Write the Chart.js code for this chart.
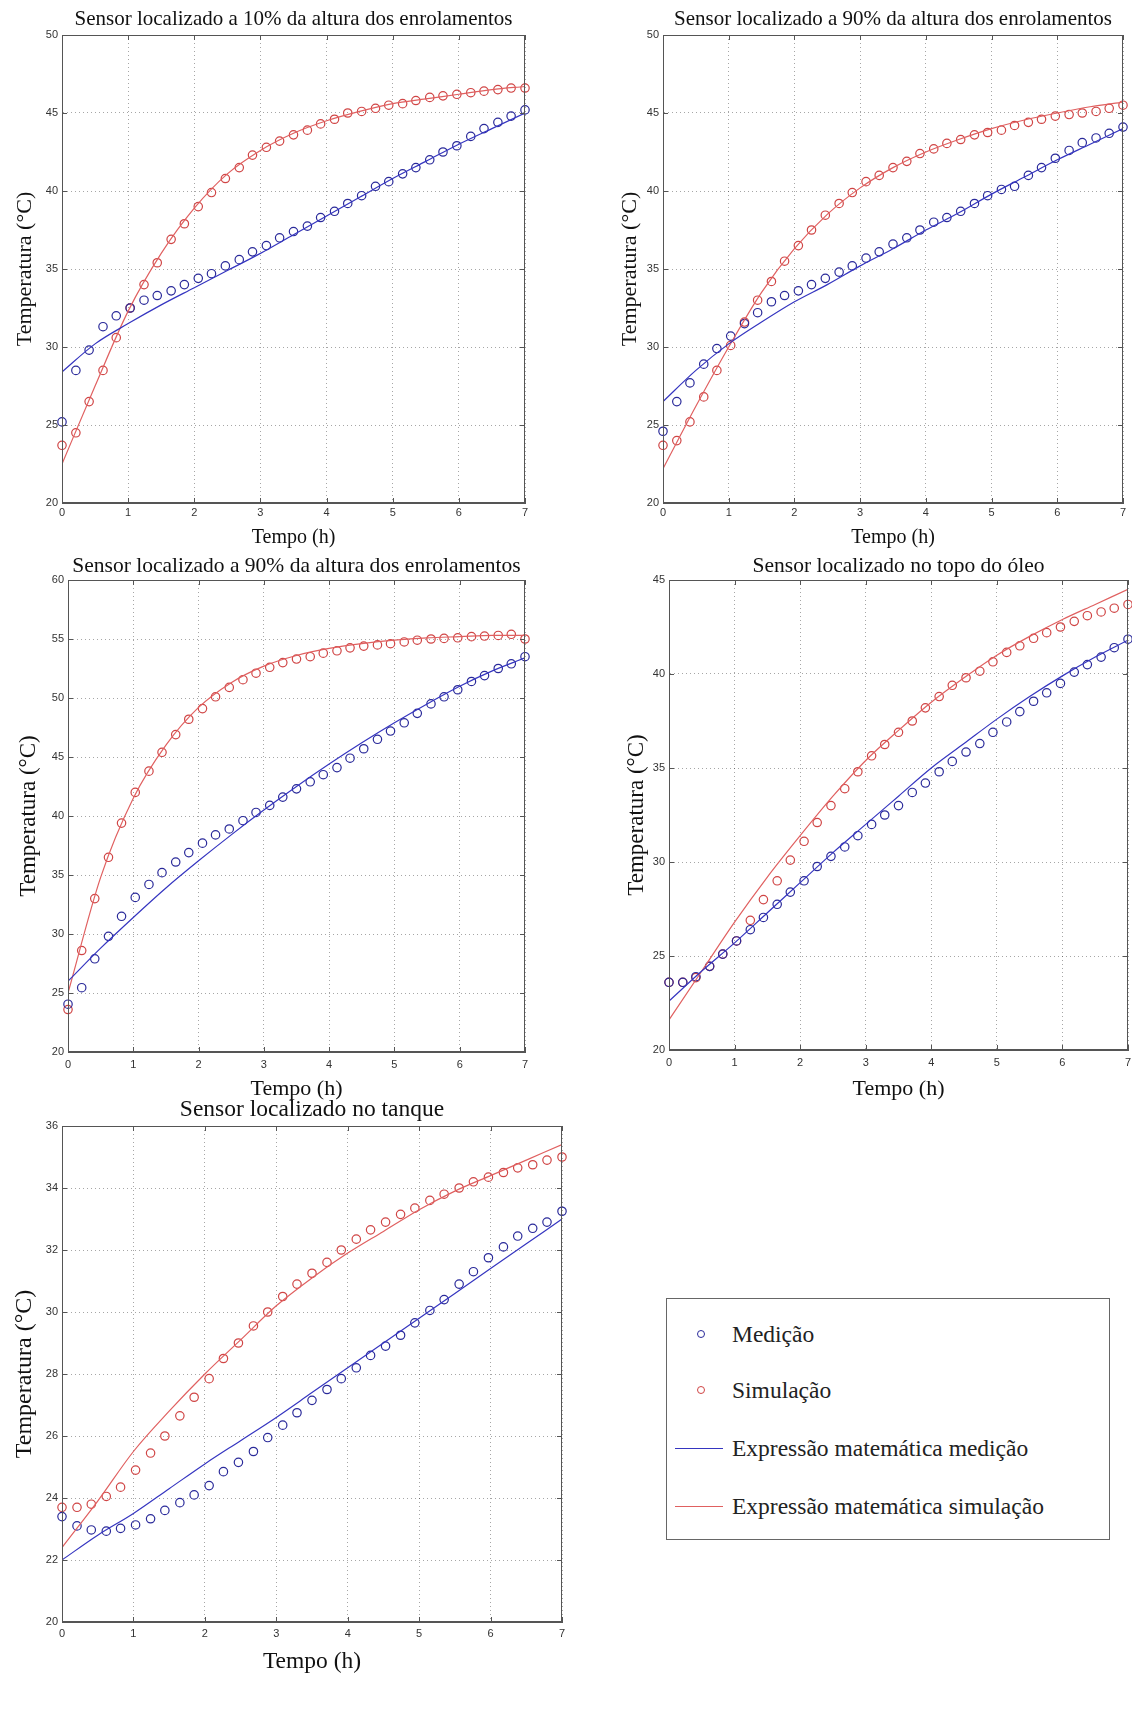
<!DOCTYPE html>
<html lang="pt">
<head>
<meta charset="utf-8">
<title>Temperatura dos sensores</title>
<script src="https://cdn.jsdelivr.net/npm/chart.js@4.4.1/dist/chart.umd.min.js"></script>
<style>
  html, body { margin: 0; padding: 0; background: #fff; overflow: hidden; }
  body { width: 1132px; height: 1710px; position: relative; }
  canvas { position: absolute; }
  #legenda {
    position: absolute; left: 666px; top: 1298px; width: 444px; height: 242px;
    box-sizing: border-box; border: 1px solid #666; background: #fff;
    font-family: "Liberation Serif", "Times New Roman", serif; font-size: 23.5px; color: #222;
  }
  #legenda .linha { position: absolute; left: 0; height: 30px; width: 100%; }
  #legenda .texto { position: absolute; left: 65px; top: 0; line-height: 30px; white-space: nowrap; }
  #legenda .circ { position: absolute; left: 30px; top: 11px; width: 6px; height: 6px; border-radius: 50%; border: 1px solid; }
  #legenda .traco { position: absolute; left: 8px; top: 15px; width: 48px; height: 0; border-top: 1px solid; }
</style>
</head>
<body>

<canvas id="g1"></canvas>
<canvas id="g2"></canvas>
<canvas id="g3"></canvas>
<canvas id="g4"></canvas>
<canvas id="g5"></canvas>

<div id="legenda">
  <div class="linha" style="top:20px"><span class="circ" style="border-color:#2a2a9a"></span><span class="texto">Medição</span></div>
  <div class="linha" style="top:76px"><span class="circ" style="border-color:#d04545"></span><span class="texto">Simulação</span></div>
  <div class="linha" style="top:134px"><span class="traco" style="border-color:#3535c0"></span><span class="texto">Expressão matemática medição</span></div>
  <div class="linha" style="top:192px"><span class="traco" style="border-color:#e06060"></span><span class="texto">Expressão matemática simulação</span></div>
</div>

<script>
// tempos das amostras (h) e da expressão matemática
const tempo = [0, 0.21, 0.41, 0.62, 0.82, 1.03, 1.24, 1.44, 1.65, 1.85, 2.06, 2.26, 2.47, 2.68, 2.88, 3.09, 3.29, 3.5,
  3.71, 3.91, 4.12, 4.32, 4.53, 4.74, 4.94, 5.15, 5.35, 5.56, 5.76, 5.97, 6.18, 6.38, 6.59, 6.79, 7];
const tempoCurva = [0, 0.5, 1, 1.5, 2, 2.5, 3, 3.5, 4, 4.5, 5, 5.5, 6, 6.5, 7];

// 10% da altura dos enrolamentos
const medicao10 = [25.2, 28.5, 29.8, 31.3, 32.0, 32.5, 33.0, 33.3, 33.6, 34.0, 34.4, 34.7, 35.2, 35.6, 36.1, 36.5, 37.0, 37.4,
  37.75, 38.3, 38.7, 39.2, 39.7, 40.3, 40.6, 41.1, 41.5, 42.0, 42.5, 42.9, 43.5, 44.0, 44.4, 44.8, 45.2];
const simulacao10 = [23.7, 24.5, 26.5, 28.5, 30.6, 32.5, 34.0, 35.4, 36.9, 37.9, 39.0, 39.9, 40.8, 41.5, 42.3, 42.8, 43.2, 43.6,
  43.9, 44.3, 44.6, 45.0, 45.1, 45.3, 45.5, 45.6, 45.8, 46.0, 46.1, 46.2, 46.3, 46.4, 46.5, 46.6, 46.6];
const curvaMedicao10 = [28.4, 30.2, 31.5, 32.7, 33.8, 34.9, 36.0, 37.2, 38.4, 39.6, 40.8, 41.9, 43.0, 44.0, 45.0];
const curvaSimulacao10 = [22.5, 27.5, 32.3, 36.0, 38.9, 41.1, 42.6, 43.7, 44.5, 45.1, 45.6, 45.9, 46.2, 46.5, 46.7];

// 90% da altura dos enrolamentos (primeiro gráfico)
const medicao90a = [24.6, 26.5, 27.7, 28.9, 29.9, 30.7, 31.5, 32.2, 32.9, 33.3, 33.6, 34.0, 34.4, 34.8, 35.2, 35.7, 36.1, 36.6,
  37.0, 37.5, 38.0, 38.3, 38.7, 39.2, 39.7, 40.1, 40.3, 41.0, 41.5, 42.1, 42.6, 43.1, 43.4, 43.7, 44.1];
const simulacao90a = [23.7, 24.0, 25.2, 26.8, 28.5, 30.1, 31.6, 33.0, 34.2, 35.5, 36.5, 37.5, 38.45, 39.2, 39.9, 40.6, 41.0, 41.5,
  41.9, 42.4, 42.7, 43.05, 43.3, 43.6, 43.75, 43.9, 44.2, 44.4, 44.6, 44.8, 44.9, 45.0, 45.1, 45.3, 45.5];
const curvaMedicao90a = [26.5, 28.5, 30.2, 31.6, 32.9, 34.0, 35.2, 36.3, 37.5, 38.6, 39.8, 40.9, 42.0, 43.0, 44.0];
const curvaSimulacao90a = [22.2, 26.2, 30.0, 33.5, 36.3, 38.5, 40.2, 41.5, 42.5, 43.3, 44.0, 44.55, 45.0, 45.4, 45.7];

// 90% da altura dos enrolamentos (segundo gráfico)
const medicao90b = [24.05, 25.45, 27.9, 29.8, 31.5, 33.1, 34.2, 35.2, 36.1, 36.9, 37.7, 38.4, 38.9, 39.6, 40.3, 40.9, 41.6, 42.3,
  42.9, 43.5, 44.1, 44.9, 45.7, 46.5, 47.2, 47.9, 48.7, 49.5, 50.1, 50.7, 51.4, 51.9, 52.5, 52.9, 53.5];
const simulacao90b = [23.6, 28.6, 33.0, 36.5, 39.4, 42.0, 43.8, 45.4, 46.9, 48.2, 49.1, 50.1, 50.9, 51.55, 52.1, 52.6, 53.0, 53.3,
  53.5, 53.8, 54.0, 54.25, 54.4, 54.5, 54.6, 54.75, 54.9, 55.0, 55.05, 55.1, 55.2, 55.25, 55.3, 55.4, 55.0];
const curvaMedicao90b = [26.0, 28.8, 31.4, 33.9, 36.2, 38.4, 40.5, 42.5, 44.4, 46.2, 47.9, 49.5, 51.0, 52.3, 53.4];
const curvaSimulacao90b = [25.0, 34.8, 41.5, 46.0, 49.2, 51.3, 52.7, 53.6, 54.2, 54.6, 54.9, 55.1, 55.2, 55.3, 55.3];

// topo do óleo
const medicaoTopo = [23.6, 23.6, 23.9, 24.45, 25.1, 25.8, 26.4, 27.05, 27.75, 28.4, 29.0, 29.76, 30.3, 30.8, 31.4, 32.0, 32.5, 33.0,
  33.7, 34.2, 34.8, 35.35, 35.85, 36.3, 36.9, 37.45, 38.0, 38.55, 39.0, 39.5, 40.1, 40.5, 40.9, 41.4, 41.85];
const simulacaoTopo = [23.6, 23.6, 23.85, 24.45, 25.1, 25.8, 26.9, 28.0, 29.0, 30.1, 31.1, 32.1, 33.0, 33.9, 34.8, 35.65, 36.25, 36.9,
  37.5, 38.2, 38.8, 39.4, 39.8, 40.15, 40.65, 41.15, 41.5, 41.9, 42.2, 42.5, 42.8, 43.1, 43.3, 43.5, 43.7];
const curvaMedicaoTopo = [22.6, 24.2, 25.7, 27.3, 28.9, 30.5, 32.0, 33.5, 35.0, 36.3, 37.6, 38.8, 39.9, 40.9, 41.8];
const curvaSimulacaoTopo = [21.6, 24.2, 26.8, 29.2, 31.4, 33.5, 35.4, 37.0, 38.5, 39.8, 41.0, 42.0, 42.9, 43.7, 44.5];

// tanque
const medicaoTanque = [23.4, 23.1, 22.97, 22.93, 23.02, 23.13, 23.33, 23.6, 23.85, 24.1, 24.4, 24.85, 25.15, 25.5, 25.95, 26.35, 26.75, 27.15,
  27.5, 27.85, 28.2, 28.6, 28.9, 29.25, 29.65, 30.05, 30.4, 30.9, 31.3, 31.75, 32.1, 32.45, 32.7, 32.9, 33.25];
const simulacaoTanque = [23.7, 23.7, 23.8, 24.05, 24.35, 24.9, 25.45, 26.0, 26.65, 27.25, 27.85, 28.5, 29.0, 29.55, 30.0, 30.5, 30.9, 31.25,
  31.6, 32.0, 32.35, 32.65, 32.9, 33.15, 33.35, 33.6, 33.8, 34.0, 34.2, 34.35, 34.5, 34.65, 34.75, 34.9, 35.0];
const curvaMedicaoTanque = [22.0, 22.8, 23.5, 24.3, 25.1, 25.85, 26.6, 27.4, 28.2, 29.0, 29.8, 30.6, 31.4, 32.2, 33.0];
const curvaSimulacaoTanque = [22.4, 23.9, 25.5, 26.8, 28.0, 29.1, 30.2, 31.1, 31.9, 32.6, 33.3, 33.9, 34.4, 34.9, 35.4];

const titulos = [
  'Sensor localizado a 10% da altura dos enrolamentos',
  'Sensor localizado a 90% da altura dos enrolamentos',
  'Sensor localizado a 90% da altura dos enrolamentos',
  'Sensor localizado no topo do óleo',
  'Sensor localizado no tanque'
];
const eixosY = [[20, 50, 5], [20, 50, 5], [20, 60, 5], [20, 45, 5], [20, 36, 2]];

const series = [
  [medicao10, simulacao10, curvaMedicao10, curvaSimulacao10],
  [medicao90a, simulacao90a, curvaMedicao90a, curvaSimulacao90a],
  [medicao90b, simulacao90b, curvaMedicao90b, curvaSimulacao90b],
  [medicaoTopo, simulacaoTopo, curvaMedicaoTopo, curvaSimulacaoTopo],
  [medicaoTanque, simulacaoTanque, curvaMedicaoTanque, curvaSimulacaoTanque]
];

// posição de cada área de plotagem na página (px)
const caixas = [
  {left: 62, top: 35, right: 525, bottom: 503, tituloY: 20, rotuloY: 25, tempoY: 538, fTitulo: 21, fEixo: 20, fRotulo: 22, folga: 3},
  {left: 663, top: 35, right: 1123, bottom: 503, tituloY: 20, rotuloY: 630, tempoY: 538, fTitulo: 21, fEixo: 20, fRotulo: 22, folga: 3},
  {left: 68, top: 580, right: 525, bottom: 1052, tituloY: 566, rotuloY: 29, tempoY: 1089, fTitulo: 21.5, fEixo: 22, fRotulo: 23, folga: 6},
  {left: 669, top: 580, right: 1128, bottom: 1050, tituloY: 566, rotuloY: 637, tempoY: 1089, fTitulo: 21.5, fEixo: 22, fRotulo: 23, folga: 6},
  {left: 62, top: 1126, right: 562, bottom: 1622, tituloY: 1110, rotuloY: 24, tempoY: 1662, fTitulo: 23.5, fEixo: 23.5, fRotulo: 24, folga: 5}
];
const MARGEM_DIREITA = 12;

const AZUL_PONTO = '#2a2a9a';
const VERMELHO_PONTO = '#d04545';
const AZUL_LINHA = '#3535c0';
const VERMELHO_LINHA = '#e06060';
const SERIFA = '"Liberation Serif", "Times New Roman", serif';

Chart.defaults.font.family = '"Liberation Sans", Arial, sans-serif';
Chart.defaults.animation = false;

function pares(xs, ys) {
  return xs.map((x, i) => ({x: x, y: ys[i]}));
}

// moldura fechada e marcas de escala para dentro, como no MATLAB
const moldura = {
  id: 'moldura',
  afterDatasetsDraw(chart) {
    const {ctx, chartArea: a, scales: {x, y}} = chart;
    ctx.save();
    ctx.strokeStyle = '#555';
    ctx.lineWidth = 1;
    ctx.strokeRect(Math.round(a.left) + 0.5, Math.round(a.top) + 0.5,
      Math.round(a.width) - 1, Math.round(a.height) - 1);
    ctx.beginPath();
    x.ticks.forEach(t => {
      const px = Math.round(x.getPixelForValue(t.value)) + 0.5;
      ctx.moveTo(px, a.bottom); ctx.lineTo(px, a.bottom - 5);
      ctx.moveTo(px, a.top); ctx.lineTo(px, a.top + 5);
    });
    y.ticks.forEach(t => {
      const py = Math.round(y.getPixelForValue(t.value)) + 0.5;
      ctx.moveTo(a.left, py); ctx.lineTo(a.left + 5, py);
      ctx.moveTo(a.right, py); ctx.lineTo(a.right - 5, py);
    });
    ctx.stroke();
    ctx.restore();
  }
};

function desenhar(indice) {
  const c = caixas[indice];
  const [med, sim, cMed, cSim] = series[indice];
  const [yMin, yMax, yPasso] = eixosY[indice];

  const esq = Math.round(c.rotuloY - 0.6 * c.fRotulo);
  const topo = Math.round(c.tituloY - 0.6 * c.fTitulo - 2);
  const baseX = Math.round(c.tempoY + 0.6 * c.fEixo);
  const largEixoY = c.left - esq;
  const alturaEixoX = baseX - c.bottom;
  const padTitulo = Math.max(c.top - topo - 2 - 1.2 * c.fTitulo, 0);

  const canvas = document.getElementById('g' + (indice + 1));
  canvas.width = c.right + MARGEM_DIREITA - esq;
  canvas.height = baseX - topo;
  canvas.style.left = esq + 'px';
  canvas.style.top = topo + 'px';

  new Chart(canvas.getContext('2d'), {
    type: 'line',
    data: {
      datasets: [
        {
          label: 'Medição', data: pares(tempo, med), showLine: false,
          pointStyle: 'circle', pointRadius: 4.2, pointBorderWidth: 1.2,
          pointBorderColor: AZUL_PONTO, pointBackgroundColor: 'rgba(0,0,0,0)',
          borderColor: AZUL_PONTO, clip: false, order: 2
        },
        {
          label: 'Simulação', data: pares(tempo, sim), showLine: false,
          pointStyle: 'circle', pointRadius: 4.2, pointBorderWidth: 1.2,
          pointBorderColor: VERMELHO_PONTO, pointBackgroundColor: 'rgba(0,0,0,0)',
          borderColor: VERMELHO_PONTO, clip: false, order: 3
        },
        {
          label: 'Expressão matemática medição', data: pares(tempoCurva, cMed),
          borderColor: AZUL_LINHA, borderWidth: 1.2, pointRadius: 0,
          cubicInterpolationMode: 'monotone', fill: false, order: 0
        },
        {
          label: 'Expressão matemática simulação', data: pares(tempoCurva, cSim),
          borderColor: VERMELHO_LINHA, borderWidth: 1.2, pointRadius: 0,
          cubicInterpolationMode: 'monotone', fill: false, order: 1
        }
      ]
    },
    options: {
      responsive: false,
      animation: false,
      layout: { padding: { left: 0, top: 0, right: MARGEM_DIREITA, bottom: 0 } },
      plugins: {
        legend: { display: false },
        tooltip: { enabled: false },
        title: {
          display: true,
          text: titulos[indice],
          fullSize: false,
          color: '#111',
          font: { family: SERIFA, size: c.fTitulo, weight: 'normal', lineHeight: 1.2 },
          padding: { top: 2, bottom: padTitulo }
        }
      },
      scales: {
        x: {
          type: 'linear', min: 0, max: 7,
          ticks: { stepSize: 1, color: '#333', padding: c.folga, font: { size: 11 }, maxRotation: 0 },
          grid: { color: 'rgba(0,0,0,0.35)', lineWidth: 1, drawTicks: false },
          border: { display: true, color: '#555', dash: [1, 3] },
          title: {
            display: true, text: 'Tempo (h)', color: '#111',
            font: { family: SERIFA, size: c.fEixo, lineHeight: 1.2 },
            padding: { top: 0, bottom: 0 }
          },
          afterFit: s => { s.height = alturaEixoX; }
        },
        y: {
          type: 'linear', min: yMin, max: yMax,
          ticks: { stepSize: yPasso, color: '#333', padding: 4, font: { size: 11 } },
          grid: { color: 'rgba(0,0,0,0.35)', lineWidth: 1, drawTicks: false },
          border: { display: true, color: '#555', dash: [1, 3] },
          title: {
            display: true, text: 'Temperatura (°C)', color: '#111',
            font: { family: SERIFA, size: c.fRotulo, lineHeight: 1.2 },
            padding: { top: 0, bottom: 0 }
          },
          afterFit: s => { s.width = largEixoY; }
        }
      }
    },
    plugins: [moldura]
  });
}

document.addEventListener('DOMContentLoaded', function () {
  for (let i = 0; i < caixas.length; i++) {
    desenhar(i);
  }
});
</script>
</body>
</html>
